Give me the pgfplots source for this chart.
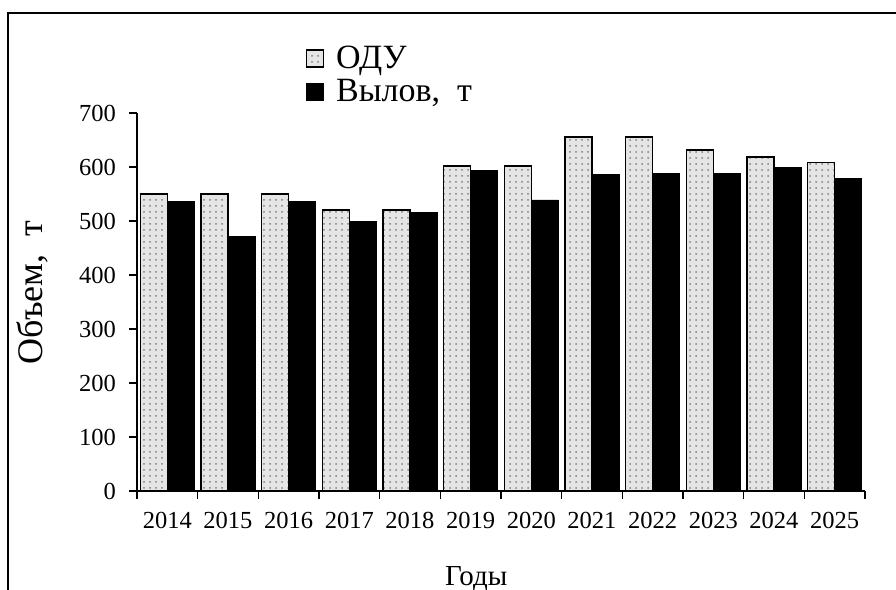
\documentclass[border=0pt]{standalone}
\usepackage{pgfplots}
\pgfplotsset{compat=1.18}
\usepackage{fontspec}
\setmainfont{Liberation Serif}
\usetikzlibrary{patterns}

\pgfplotstableread{
x year odu catch
0 2014 550 536
1 2015 550 471
2 2016 550 537
3 2017 520 499
4 2018 520 516
5 2019 602 594
6 2020 602 539
7 2021 656 586
8 2022 656 588
9 2023 631 588
10 2024 618 600
11 2025 608 578
}\datatable

\begin{document}
\begin{tikzpicture}
\useasboundingbox (-68.5pt,-49.5pt) rectangle (379.5pt,245.5pt);
\draw[line width=1pt] (-64.5pt,-49.5pt) -- (-64.5pt,239pt) -- (379.5pt,239pt);
\begin{axis}[
    at={(0,0)}, anchor=south west,
    scale only axis,
    width=364pt, height=189pt,
    ybar=0pt,
    bar width=13.5pt,
    axis x line*=bottom,
    axis y line*=left,
    axis line style={line width=0.6pt},
    xmin=-0.5, xmax=11.5,
    ymin=0, ymax=700,
    ytick={0,100,...,700},
    xtick={0,...,11},
    xticklabels={2014,2015,2016,2017,2018,2019,2020,2021,2022,2023,2024,2025},
    minor xtick={-0.5,0.5,...,11.5},
    major x tick style={draw=none},
    tick align=outside,
    major tick length=4pt,
    minor tick length=4pt,
    tick style={black, line width=0.6pt},
    /pgf/number format/assume math mode=true,
    ticklabel style={font=\fontsize{12.25}{14}\selectfont},
    xticklabel style={yshift=-3pt},
    yticklabel style={xshift=-3pt},
    ylabel={Объем,\ \ т},
    ylabel style={font=\fontsize{18}{21}\selectfont, at={(axis description cs:-0.144,0.525)}, anchor=center},
    xlabel={Годы},
    xlabel style={font=\fontsize{14.5}{17}\selectfont, at={(axis description cs:0.466,-0.249)}, anchor=base},
    legend style={draw=none, fill=none, at={(axis description cs:0.231,1.19)}, anchor=north west,
        font=\fontsize{17}{20}\selectfont, row sep=0pt, inner sep=0pt,
        /tikz/every odd column/.append style={column sep=4pt}},
    legend image code/.code={\draw[#1,draw=black] (0pt,-4.25pt) rectangle (8.5pt,4.25pt);},
    legend cell align=left,
]
\addplot[draw=black, line width=0.8pt, fill=gray!20, postaction={pattern=dots, pattern color=gray}] table[x=x, y=odu] {\datatable};
\addplot[draw=black, fill=black] table[x=x, y=catch] {\datatable};
\legend{ОДУ, {Вылов,\ \ т}}
\end{axis}
\end{tikzpicture}
\end{document}
